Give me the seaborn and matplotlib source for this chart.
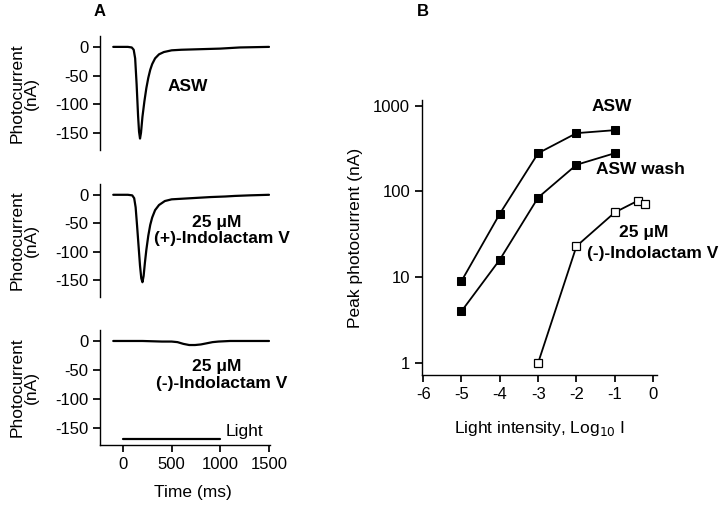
import numpy as np
import pandas as pd
import matplotlib
matplotlib.use("Agg")
import matplotlib.pyplot as plt
import seaborn as sns

# Panel A traces (time in ms, photocurrent in nA)
asw_t = [-100, 0, 50, 90, 110, 125, 140, 155, 165, 175, 185, 200, 220, 240, 260, 280,
         300, 330, 370, 420, 500, 600, 800, 1000, 1100, 1200, 1500]
asw_v = [0, 0, 0, -1, -5, -20, -65, -120, -148, -160, -150, -122, -95, -72, -54, -40,
         -30, -20, -13, -9, -6, -5, -4, -3, -2, -1, 0]

plus_t = [-100, 0, 50, 95, 115, 130, 145, 160, 175, 188, 200, 212, 225, 240, 260, 280,
          300, 330, 370, 430, 500, 700, 900, 1050, 1150, 1300, 1500]
plus_v = [0, 0, 0, -1, -6, -22, -55, -90, -125, -147, -154, -143, -120, -97, -72, -53,
          -40, -27, -18, -11, -8, -6, -4, -3, -2, -1, 0]

minus_t = [-100, 0, 200, 400, 500, 560, 620, 680, 740, 800, 860, 920, 980, 1100, 1300, 1500]
minus_v = [0, 0, 0, -1, -1, -2, -5, -7, -7, -6, -4, -2, -1, 0, 0, 0]

light_t = [0, 1000]
light_v = [-169, -169]

# Panel B: peak photocurrent vs log10 light intensity
log_i = [-5, -4, -3, -2, -1]
peak_asw = [9, 55, 280, 480, 520]
peak_wash = [4, 16, 85, 205, 280]
ind_log_i = [-3, -2, -1, -0.4, -0.2]
peak_ind = [1, 23, 57, 78, 72]

sns.set_theme(style="ticks")
plt.rcParams['font.family'] = ['Liberation Sans', 'DejaVu Sans']
plt.rcParams['axes.unicode_minus'] = False
plt.rcParams['axes.linewidth'] = 1.0
plt.rcParams['xtick.major.size'] = 5
plt.rcParams['ytick.major.size'] = 5
plt.rcParams['xtick.labelsize'] = 12
plt.rcParams['ytick.labelsize'] = 12
for key in ['text.color', 'axes.labelcolor', 'axes.edgecolor', 'xtick.color', 'ytick.color']:
    plt.rcParams[key] = 'black'

LABEL = 12.5
BOLD = 12.5

fig = plt.figure(figsize=(7.2, 5.07), dpi=100)

W, H = 720, 507


def px_axes(left, top, right, bottom):
    return fig.add_axes([left / W, 1 - bottom / H, (right - left) / W, (bottom - top) / H])


traces = [
    (asw_t, asw_v, (100, 36, 270, 150)),
    (plus_t, plus_v, (100, 184, 270, 297)),
    (minus_t, minus_v, (100, 330, 270, 445)),
]
axes_a = []
for t, v, box in traces:
    ax = px_axes(*box)
    sns.lineplot(x=t, y=v, ax=ax, color='black', linewidth=1.6)
    ax.set_xlim(-236, 1510)
    ax.set_ylim(-180, 19)
    ax.set_yticks([0, -50, -100, -150])
    ax.set_ylabel('Photocurrent\n(nA)', fontsize=LABEL, linespacing=0.95)
    ax.yaxis.set_label_coords(-0.36, 0.5)
    sns.despine(ax=ax)
    axes_a.append(ax)

for ax in axes_a[:2]:
    ax.spines['bottom'].set_visible(False)
    ax.set_xticks([])

ax3 = axes_a[2]
sns.lineplot(x=light_t, y=light_v, ax=ax3, color='black', linewidth=1.6)
ax3.set_xticks([0, 500, 1000, 1500])
ax3.set_xlabel('Time (ms)', fontsize=LABEL)
ax3.xaxis.set_label_coords(0.547, -0.35)
ax3.text(1050, -157, 'Light', fontsize=LABEL, va='center', ha='left')

axes_a[0].text(668, -70, 'ASW', fontsize=BOLD, fontweight='bold', ha='center', va='center')
axes_a[1].text(966, -49, '25 μM', fontsize=BOLD, fontweight='bold', ha='center', va='center')
axes_a[1].text(1017, -77, '(+)-Indolactam V', fontsize=BOLD, fontweight='bold', ha='center', va='center')
axes_a[2].text(966, -45, '25 μM', fontsize=BOLD, fontweight='bold', ha='center', va='center')
axes_a[2].text(1017, -73, '(-)-Indolactam V', fontsize=BOLD, fontweight='bold', ha='center', va='center')

# Panel B
axb = px_axes(422, 100, 657, 375)
df_b = pd.concat([
    pd.DataFrame({'logI': log_i, 'peak': peak_asw, 'cond': 'ASW'}),
    pd.DataFrame({'logI': log_i, 'peak': peak_wash, 'cond': 'ASW wash'}),
])
sns.lineplot(data=df_b, x='logI', y='peak', units='cond', estimator=None, ax=axb,
             color='black', linewidth=1.3, marker='s', markersize=6,
             markerfacecolor='black', markeredgecolor='black')
sns.lineplot(x=ind_log_i, y=peak_ind, ax=axb, color='black', linewidth=1.3,
             marker='s', markersize=6, markerfacecolor='white',
             markeredgecolor='black', markeredgewidth=0.9)
axb.set_yscale('log')
axb.set_ylim(0.72, 1170)
axb.set_xlim(-6.03, 0.1)
axb.set_yticks([1, 10, 100, 1000])
axb.set_yticklabels(['1', '10', '100', '1000'])
axb.yaxis.set_minor_locator(matplotlib.ticker.NullLocator())
axb.set_xticks([-6, -5, -4, -3, -2, -1, 0])
axb.set_ylabel('Peak photocurrent (nA)', fontsize=LABEL)
axb.yaxis.set_label_coords(-0.25, 0.5)
axb.set_xlabel('Light intensity, Log$_{10}$ I', fontsize=LABEL)
axb.xaxis.set_label_coords(0.5, -0.16)
sns.despine(ax=axb)

axb.text(-1.08, 970, 'ASW', fontsize=BOLD, fontweight='bold', ha='center', va='center')
axb.text(-0.32, 180, 'ASW wash', fontsize=BOLD, fontweight='bold', ha='center', va='center')
axb.text(-0.24, 33, '25 μM', fontsize=BOLD, fontweight='bold', ha='center', va='center')
axb.text(-0.01, 19, '(-)-Indolactam V', fontsize=BOLD, fontweight='bold', ha='center', va='center')

fig.text(100 / W, 1 - 12 / H, 'A', fontsize=12, fontweight='bold', ha='center', va='center')
fig.text(423 / W, 1 - 11 / H, 'B', fontsize=12, fontweight='bold', ha='center', va='center')

fig.savefig('out.png', dpi=100)
